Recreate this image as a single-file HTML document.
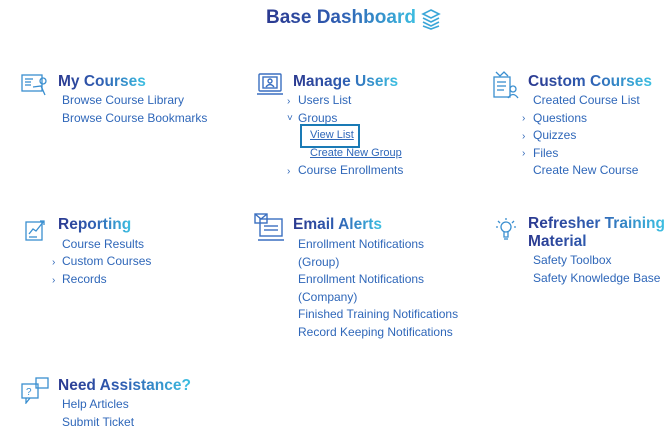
<!DOCTYPE html>
<html><head><style>
body{margin:0;width:670px;height:438px;background:#fff;position:relative;overflow:hidden;font-family:"Liberation Sans",sans-serif}
.t{position:absolute;font-weight:bold;font-size:15.5px;line-height:18px;background:linear-gradient(90deg,#2b3990 0%,#2f5fb3 50%,#3cc0e2 100%);-webkit-background-clip:text;background-clip:text;color:transparent;white-space:nowrap}
.l{position:absolute;font-size:12px;line-height:17.5px;color:#2f67b9;white-space:nowrap}
.c{position:absolute;font-size:10px;color:#2f67b9}
.u{text-decoration:underline;font-size:11px}
svg{position:absolute}
</style></head><body>
<div class="t" style="left:266px;top:7px;font-size:19px;line-height:22px;width:152px">Base Dashboard</div>
<svg style="left:421px;top:8px" width="20" height="22" viewBox="0 0 20 22" fill="none" stroke="#3aa6d8" stroke-width="1.6"><path d="M10 2 L18 6 L10 10 L2 6 Z"/><path d="M2 10 L10 14 L18 10"/><path d="M2 14 L10 18 L18 14"/><path d="M2 18 L10 21 L18 18"/></svg>

<!-- row 1 -->
<svg style="left:21px;top:73px" width="28" height="24" fill="none" stroke="#3a8fd0" stroke-width="1.3"><rect x="1" y="2" width="20" height="16"/><line x1="4" y1="6" x2="12" y2="6"/><line x1="4" y1="9" x2="10" y2="9"/><line x1="4" y1="12" x2="10" y2="12"/><circle cx="22" cy="8" r="3"/><path d="M12 14 L20 13 L24 22"/></svg>
<div class="t" style="left:58px;top:73px">My Courses</div>
<div class="l" style="left:62px;top:92px">Browse Course Library<br>Browse Course Bookmarks</div>

<svg style="left:256px;top:72px" width="28" height="26" fill="none" stroke="#3a6fc0" stroke-width="1.4"><rect x="3" y="2" width="22" height="17" rx="1"/><rect x="7" y="5" width="14" height="11"/><circle cx="14" cy="9" r="2"/><path d="M10 15 Q14 10 18 15"/><path d="M1 22 H27"/></svg>
<div class="t" style="left:293px;top:73px">Manage Users</div>
<div class="c" style="left:287px;top:96px">›</div>
<div class="l" style="left:298px;top:92px">Users List</div>
<div class="c" style="left:287px;top:113px">˅</div>
<div class="l" style="left:298px;top:110px">Groups</div>
<div style="position:absolute;left:300px;top:124px;width:56px;height:20px;border:2.5px solid #1a7ab5"></div>
<div class="l u" style="left:310px;top:127px">View List</div>
<div class="l u" style="left:310px;top:145px">Create New Group</div>
<div class="c" style="left:287px;top:166px">›</div>
<div class="l" style="left:298px;top:162px">Course Enrollments</div>

<svg style="left:492px;top:71px" width="28" height="28" fill="none" stroke="#3a8fd0" stroke-width="1.3"><rect x="2" y="6" width="16" height="20"/><line x1="5" y1="11" x2="14" y2="11"/><line x1="5" y1="15" x2="14" y2="15"/><line x1="5" y1="19" x2="12" y2="19"/><path d="M4 1 L8 5 L12 1 L16 5"/><circle cx="21" cy="18" r="3"/><path d="M16 27 Q21 20 26 27"/></svg>
<div class="t" style="left:528px;top:73px">Custom Courses</div>
<div class="l" style="left:533px;top:92px">Created Course List</div>
<div class="c" style="left:522px;top:113px">›</div>
<div class="l" style="left:533px;top:110px">Questions</div>
<div class="c" style="left:522px;top:131px">›</div>
<div class="l" style="left:533px;top:127px">Quizzes</div>
<div class="c" style="left:522px;top:148px">›</div>
<div class="l" style="left:533px;top:145px">Files</div>
<div class="l" style="left:533px;top:162px">Create New Course</div>

<!-- row 2 -->
<svg style="left:24px;top:218px" width="24" height="24" fill="none" stroke="#3a8fd0" stroke-width="1.3"><rect x="2" y="4" width="16" height="18"/><path d="M5 16 L9 11 L12 13 L20 3"/><path d="M16 3 H20 V7"/><line x1="5" y1="19" x2="13" y2="19"/></svg>
<div class="t" style="left:58px;top:216px">Reporting</div>
<div class="l" style="left:62px;top:236px">Course Results</div>
<div class="c" style="left:52px;top:257px">›</div>
<div class="l" style="left:62px;top:253px">Custom Courses</div>
<div class="c" style="left:52px;top:275px">›</div>
<div class="l" style="left:62px;top:271px">Records</div>

<svg style="left:254px;top:213px" width="32" height="30" fill="none" stroke="#3a6fc0" stroke-width="1.4"><rect x="6" y="6" width="22" height="17"/><rect x="1" y="1" width="12" height="9"/><path d="M1 1 L7 6 L13 1"/><line x1="10" y1="13" x2="24" y2="13"/><line x1="10" y1="17" x2="24" y2="17"/><path d="M4 27 H30"/></svg>
<div class="t" style="left:293px;top:216px">Email Alerts</div>
<div class="l" style="left:298px;top:236px">Enrollment Notifications<br>(Group)<br>Enrollment Notifications<br>(Company)<br>Finished Training Notifications<br>Record Keeping Notifications</div>

<svg style="left:495px;top:217px" width="22" height="26" fill="none" stroke="#3a8fd0" stroke-width="1.3"><circle cx="11" cy="10" r="5"/><path d="M9 15 V20 H13 V15"/><line x1="9" y1="22" x2="13" y2="22"/><path d="M11 1 V3 M3 4 L5 6 M19 4 L17 6 M1 10 H3 M19 10 H21"/></svg>
<div class="t" style="left:528px;top:215px">Refresher Training<br>Material</div>
<div class="l" style="left:533px;top:252px">Safety Toolbox<br>Safety Knowledge Base</div>

<!-- row 3 -->
<svg style="left:20px;top:376px" width="30" height="28" fill="none" stroke="#3a8fd0" stroke-width="1.3"><rect x="2" y="8" width="16" height="14"/><text x="6" y="19" font-size="10" fill="#3a8fd0" stroke="none" font-family="Liberation Sans">?</text><rect x="16" y="2" width="12" height="10"/><path d="M6 22 L6 27 L10 22"/></svg>
<div class="t" style="left:58px;top:377px">Need Assistance?</div>
<div class="l" style="left:62px;top:396px">Help Articles<br>Submit Ticket</div>
</body></html>
